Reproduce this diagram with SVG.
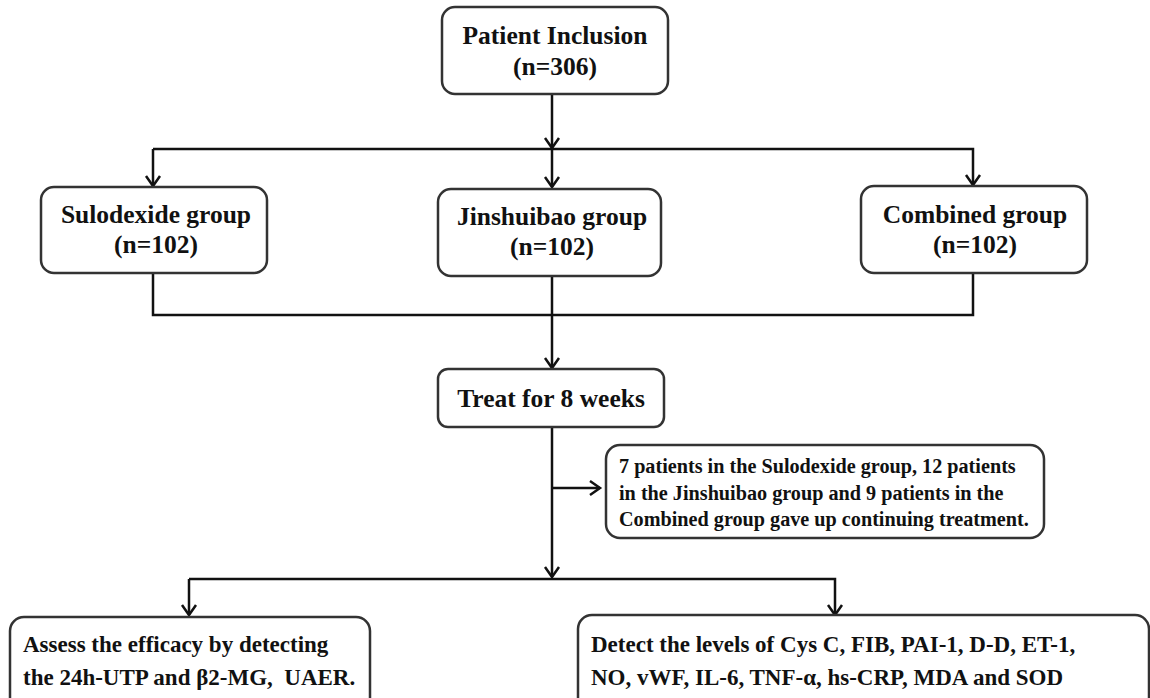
<svg xmlns="http://www.w3.org/2000/svg" width="1150" height="698" viewBox="0 0 1150 698">
<defs>
<marker id="arr" markerUnits="userSpaceOnUse" markerWidth="20" markerHeight="20" viewBox="-12 -10 14 20" refX="0" refY="0" orient="auto">
<path d="M-10,-7 L0,0 L-10,7" fill="none" stroke="#111" stroke-width="2.5"/>
</marker>
</defs>
<style>
.box{fill:#fff;stroke:#333;stroke-width:2.5}
.ln{fill:none;stroke:#111;stroke-width:2.5}
.t{font-family:"Liberation Serif","Times New Roman",serif;font-weight:bold;fill:#111}
.c{text-anchor:middle;font-size:25.5px}
.d{font-size:20.2px}
.b{font-size:23px}
</style>
<rect width="1150" height="698" fill="#fff"/>
<g id="connectors">
<line class="ln" x1="552" y1="94" x2="552" y2="148" marker-end="url(#arr)"/>
<polyline class="ln" points="153,149 973,149 973,185" marker-end="url(#arr)"/>
<line class="ln" x1="153" y1="149" x2="153" y2="186" marker-end="url(#arr)"/>
<line class="ln" x1="552" y1="149" x2="552" y2="187" marker-end="url(#arr)"/>
<polyline class="ln" points="153,273 153,315 973,315 973,273"/>
<line class="ln" x1="552" y1="276" x2="552" y2="368" marker-end="url(#arr)"/>
<line class="ln" x1="552" y1="427" x2="552" y2="577" marker-end="url(#arr)"/>
<line class="ln" x1="552" y1="488" x2="600" y2="488" marker-end="url(#arr)"/>
<polyline class="ln" points="189,579 835,579 835,615" marker-end="url(#arr)"/>
<line class="ln" x1="189" y1="579" x2="189" y2="615" marker-end="url(#arr)"/>
</g>
<g id="patient-inclusion">
<rect class="box" x="442" y="7" width="226" height="87" rx="13"/>
<text class="t c" x="555" y="44">Patient Inclusion</text>
<text class="t c" x="555" y="75">(n=306)</text>
</g>
<g id="sulodexide">
<rect class="box" x="41" y="187" width="226" height="86" rx="13"/>
<text class="t c" x="156" y="223">Sulodexide group</text>
<text class="t c" x="156" y="253">(n=102)</text>
</g>
<g id="jinshuibao">
<rect class="box" x="438" y="189" width="223" height="87" rx="13"/>
<text class="t c" x="552" y="225">Jinshuibao group</text>
<text class="t c" x="552" y="255">(n=102)</text>
</g>
<g id="combined">
<rect class="box" x="861" y="186" width="226" height="87" rx="13"/>
<text class="t c" x="975" y="223">Combined group</text>
<text class="t c" x="975" y="253">(n=102)</text>
</g>
<g id="treat">
<rect class="box" x="438" y="369" width="226" height="58" rx="10"/>
<text class="t c" x="551" y="407">Treat for 8 weeks</text>
</g>
<g id="dropout">
<rect class="box" x="606" y="445" width="438" height="93" rx="14"/>
<text class="t d" x="619" y="473">7 patients in the Sulodexide group, 12 patients</text>
<text class="t d" x="619" y="500">in the Jinshuibao group and 9 patients in the</text>
<text class="t d" x="619" y="526">Combined group gave up continuing treatment.</text>
</g>
<g id="assess">
<rect class="box" x="10" y="617" width="360" height="95" rx="14"/>
<text class="t b" x="23" y="652">Assess the efficacy by detecting</text>
<text class="t b" x="23" y="685" style="white-space:pre">the 24h-UTP and β2-MG,  UAER.</text>
</g>
<g id="detect">
<rect class="box" x="578" y="615" width="571" height="97" rx="14"/>
<text class="t b" x="591" y="652">Detect the levels of Cys C, FIB, PAI-1, D-D, ET-1,</text>
<text class="t b" x="591" y="685">NO, vWF, IL-6, TNF-α, hs-CRP, MDA and SOD</text>
</g>
</svg>
